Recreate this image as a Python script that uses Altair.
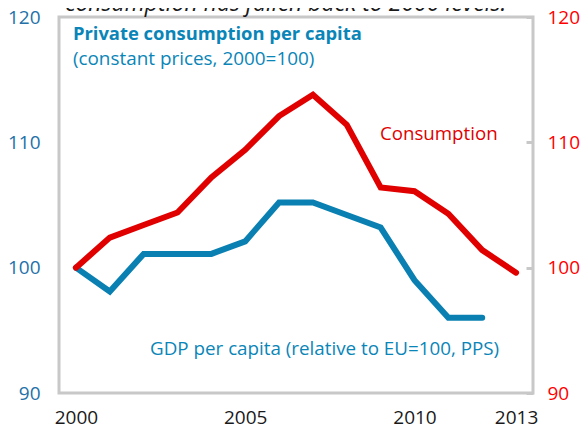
import altair as alt
import pandas as pd

# ---- data ----
years = [2000, 2001, 2002, 2003, 2004, 2005, 2006, 2007, 2008, 2009, 2010, 2011, 2012, 2013]
consumption = [100.0, 102.4, 103.4, 104.4, 107.2, 109.4, 112.1, 113.8, 111.4, 106.4, 106.1, 104.3, 101.4, 99.6]
gdp = [100.0, 98.1, 101.1, 101.1, 101.1, 102.1, 105.2, 105.2, 104.2, 103.2, 99.0, 96.0, 96.0, None]

x_tick_values = [2000, 2005, 2010, 2013]
y_tick_values = [90, 100, 110, 120]

title_text = "consumption has fallen back to 2000 levels."
annotation_text = [
    "Private consumption per capita",
    "(constant prices, 2000=100)",
    "Consumption",
    "GDP per capita (relative to EU=100, PPS)",
]
annotation_year = [1999.91, 1999.91, 2008.98, 2002.19]
annotation_value = [118.68, 116.65, 110.7, 93.53]

# ---- styling ----
FONT = "Open Sans"
BLUE = "#0a80b2"
BLUE_TEXT = "#0a85b8"
BLUE_AXIS = "#2371a8"
RED = "#e00000"
RED_AXIS = "#ff0000"
GRAY = "#c8c8c8"
DARK = "#1a1a1a"

annotation_color = [BLUE_TEXT, BLUE_TEXT, RED, BLUE_TEXT]
annotation_weight = ["bold", "normal", "normal", "normal"]
annotation_size = [18.4, 18.9, 18.7, 18.8]

df = pd.DataFrame({"year": years, "consumption": consumption, "gdp": gdp})

x_scale = alt.Scale(domain=[1999.5, 2013.5], nice=False, zero=False)
y_scale = alt.Scale(domain=[90, 120], nice=False, zero=False)

x_axis = alt.Axis(
    values=x_tick_values, format="d", title=None, grid=False, domain=False,
    ticks=False, tickSize=0, labelPadding=15, labelFont=FONT, labelFontSize=19,
    labelColor=DARK, labelFlush=False, labelOverlap=False,
)
left_axis = alt.Axis(
    values=y_tick_values, title=None, grid=False, domain=False, ticks=False,
    tickSize=0, labelPadding=19, labelFont=FONT, labelFontSize=19,
    labelColor=BLUE_AXIS, labelOverlap=False,
)
right_axis = alt.Axis(
    orient="right", values=y_tick_values, title=None, grid=False, domain=False,
    ticks=True, tickSize=7, tickWidth=3, tickColor=GRAY, offset=-7,
    labelPadding=14, labelFont=FONT, labelFontSize=19, labelColor=RED_AXIS,
    labelOverlap=False,
)

x_enc = alt.X("year:Q", scale=x_scale, axis=x_axis)

gdp_line = alt.Chart(df).mark_line(color=BLUE, strokeWidth=6, strokeCap="round").encode(
    x=x_enc, y=alt.Y("gdp:Q", scale=y_scale, axis=left_axis)
)
cons_line = alt.Chart(df).mark_line(color=RED, strokeWidth=6, strokeCap="round").encode(
    x=x_enc, y=alt.Y("consumption:Q", scale=y_scale, axis=right_axis)
)

layers = [gdp_line, cons_line]
for txt, yr, val, col, wt, sz in zip(annotation_text, annotation_year, annotation_value,
                                     annotation_color, annotation_weight, annotation_size):
    adf = pd.DataFrame({"year": [yr], "value": [val], "label": [txt]})
    layers.append(
        alt.Chart(adf).mark_text(
            align="left", baseline="middle", font=FONT, fontSize=sz,
            fontWeight=wt, color=col,
        ).encode(
            x=x_enc,
            y=alt.Y("value:Q", scale=y_scale, axis=None),
            text="label:N",
        )
    )

tdf = pd.DataFrame({"label": [title_text]})
layers.append(
    alt.Chart(tdf).mark_text(
        align="left", baseline="alphabetic", font=FONT, fontSize=23,
        fontStyle="italic", color=DARK,
    ).encode(x=alt.value(6), y=alt.value(-6), text="label:N")
)

chart = (
    alt.layer(*layers)
    .resolve_scale(y="independent")
    .properties(
        width=474, height=376,
        autosize=alt.AutoSizeParams(type="none"),
        padding={"left": 51, "top": 9, "right": 47, "bottom": 32},
        background="white",
    )
    .configure_view(stroke=GRAY, strokeWidth=3)
)

chart.save("out.html", embed_options={"renderer": "svg", "actions": False})
